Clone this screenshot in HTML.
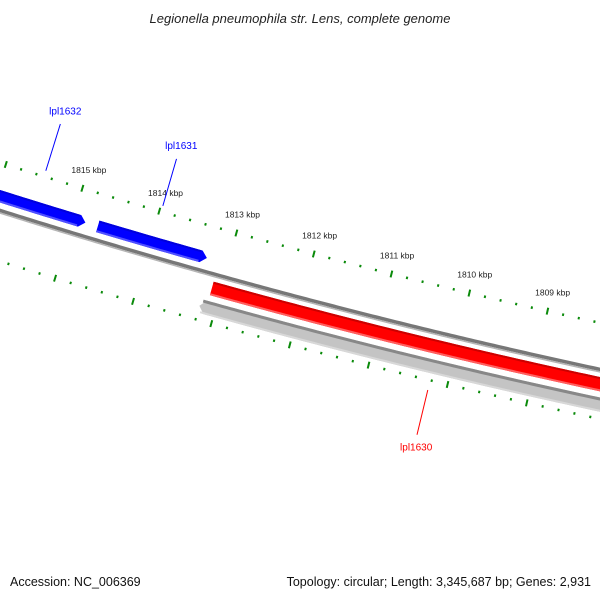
<!DOCTYPE html>
<html><head><meta charset="utf-8"><style>
body{margin:0;background:#fff}
svg{display:block;font-family:"Liberation Sans","DejaVu Sans",sans-serif}
</style></head><body>
<svg id="map" width="600" height="600" viewBox="0 0 600 600">
<rect width="600" height="600" fill="#fff"/>
<text x="300" y="23" text-anchor="middle" font-size="13" font-style="italic" fill="#222">Legionella pneumophila str. Lens, complete genome</text>
<text x="10" y="586" font-size="12.5" fill="#111">Accession: NC_006369</text>
<text x="591" y="586" text-anchor="end" font-size="12.5" fill="#111">Topology: circular; Length: 3,345,687 bp; Genes: 2,931</text>
<g id="plot"></g>
</svg>
<script>
const majorTicks = [1804,1805,1806,1807,1808,1809,1810,1811,1812,1813,1814,1815,1816,1817];
const tickLabels = ["1809 kbp","1810 kbp","1811 kbp","1812 kbp","1813 kbp","1814 kbp","1815 kbp"];
const tickLabelKbp = [1809,1810,1811,1812,1813,1814,1815];
const geneNames = ["lpl1632","lpl1631","lpl1630"];
const geneStart = [1816.16,1814.68,1813.11];
const geneEnd = [1814.84,1813.27,1807.33];
const geneStrand = [1,1,-1];
const grayStart = [1813.2];
const grayEnd = [1805.0];

const NS="http://www.w3.org/2000/svg";
const Cx=2000, Cy=-6127, R=6646, A0=0.2219, dA=0.01215;
function ang(k){return A0+(k-1809)*dA;}
function pt(k,r){const a=ang(k);return [Cx-r*Math.sin(a),Cy+r*Math.cos(a)];}
function arcPts(k1,k2,r){const out=[];const n=Math.max(2,Math.ceil(Math.abs(k2-k1)/0.05));for(let i=0;i<=n;i++){out.push(pt(k1+(k2-k1)*i/n,r));}return out;}
function d(pts){return pts.map((p,i)=>(i?'L':'M')+p[0].toFixed(2)+' '+p[1].toFixed(2)).join(' ');}
const plot=document.getElementById('plot');
function mk(tag,attrs,name){const e=document.createElementNS(NS,tag);for(const k in attrs)e.setAttribute(k,attrs[k]);plot.appendChild(e);return e;}
function arcLine(k1,k2,r,w,col){return mk('path',{d:d(arcPts(k1,k2,r)),stroke:col,'stroke-width':w,fill:'none'});}

// backbone
let bb=arcLine(1803,1818,R-0.5,3.5,'#777777');


let bb2=arcLine(1803,1818,R+2,1.5,'#b5b5b5');



// ticks
const rUp=6600, rLo=6694;
for(let i=0;i<=(1817-1804)*5;i++){
  const k=1804+i*0.2;
  const major=(i%5===0);
  const len=major?7:2.5;
  [rUp,rLo].forEach((r,j)=>{
    const p1=pt(k,r-len/2),p2=pt(k,r+len/2);
    const t=mk('line',{x1:p1[0],y1:p1[1],x2:p2[0],y2:p2[1],stroke:'#0a8a0a','stroke-width':2});
    
    
  });
}
tickLabelKbp.forEach((k,i)=>{
  const p=pt(k,6581);
  const t=mk('text',{x:p[0]+1,y:p[1]+3,'text-anchor':'middle','font-size':'8.5',fill:'#222'});
  t.textContent=tickLabels[i];
  
  
});

// genes
function geneShape(ks,ke,r1,r2,strandTip){
  // tip at ke
  const dir=Math.sign(ke-ks);
  const tipLen=0.075;
  const kb=ke-dir*tipLen;
  const outer=arcPts(ks,kb,r1);
  const inner=arcPts(kb,ks,r2);
  const tip=pt(ke,(r1+r2)/2);
  return d(outer)+' L'+tip[0]+' '+tip[1]+' '+d(inner).replace('M','L')+' Z';
}
// gray feature (below red)
grayStart.forEach((ks,i)=>{
  const g=mk('path',{d:geneShape(grayEnd[i],ks,R+27,R+41),fill:'#c4c4c4'});
  
  
  let s=arcLine(grayEnd[i],ks-0.03,R+28.5,3,'#888888');
  
  
  let s2=arcLine(grayEnd[i],ks-0.03,R+40,2,'#d8d8d8');
  
  
});
geneNames.forEach((n,i)=>{
  const fwd=geneStrand[i]>0;
  const r1=fwd?R-20:R+7, r2=fwd?R-8:R+21;
  const col=fwd?'#0000ff':'#ff0000';
  const g=mk('path',{d:geneShape(geneStart[i],geneEnd[i],r1,r2),fill:col});
  
  
  const dir=Math.sign(geneEnd[i]-geneStart[i]);
  const kb=geneEnd[i]-dir*0.09;
  let top=arcLine(geneStart[i],kb,r1+1,2,fwd?'#0000dd':'#cc0000');
  
  
  let bot=arcLine(geneStart[i],kb,r2-1,2,fwd?'#5050ff':'#ff6060');
  
  
  const km=(geneStart[i]+geneEnd[i])/2;
  const rA=fwd?6594:6704, rB=fwd?6545:6750, rT=fwd?6535:6762;
  const p1=pt(km,rA),p2=pt(km,rB),pt3=pt(km,rT);
  const l=mk('line',{x1:p1[0],y1:p1[1],x2:p2[0],y2:p2[1],stroke:col,'stroke-width':1});
  
  
  const t=mk('text',{x:pt3[0]+2,y:pt3[1]+(fwd?0:4),'text-anchor':'middle','font-size':'10',fill:col});
  t.textContent=n;
  
  
});
</script>
</body></html>
